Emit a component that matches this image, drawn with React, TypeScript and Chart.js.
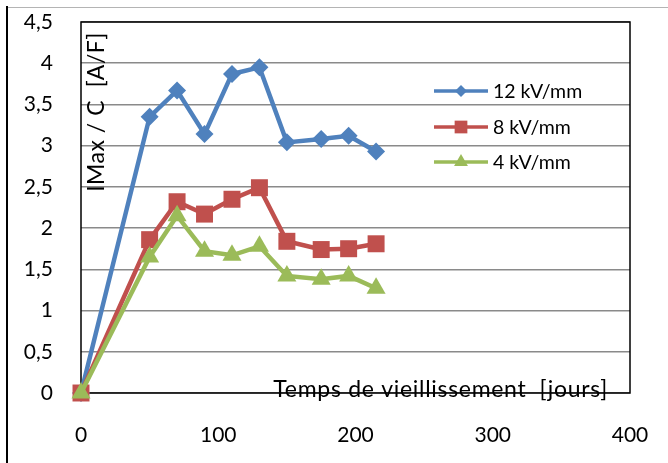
import React, { useEffect, useRef } from "react";
import { Chart, registerables } from "chart.js";

Chart.register(...registerables);

const days = [0, 50, 70, 90, 110, 130, 150, 175, 195, 215];
const kv12 = [0, 3.35, 3.67, 3.14, 3.87, 3.95, 3.04, 3.08, 3.12, 2.93];
const kv8 = [0, 1.86, 2.32, 2.17, 2.35, 2.49, 1.84, 1.74, 1.75, 1.81];
const kv4 = [0, 1.65, 2.15, 1.72, 1.67, 1.78, 1.42, 1.38, 1.42, 1.27];
const seriesNames = ["12 kV/mm", "8 kV/mm", "4 kV/mm"];
const colors = ["#4F81BD", "#C0504D", "#9BBB59"];
const markers = ["rectRot", "rect", "triangle"];
const xTitle = "Temps de vieillissement  [jours]";
const yTitle = "IMax / C  [A/F]";

const FONT = 'Lato, "Open Sans", sans-serif';
const W = 668;
const H = 463;

const decorPlugin = {
  id: "decor",
  beforeDraw(chart: any) {
    const ctx = chart.ctx;
    ctx.save();
    ctx.fillStyle = "#fff";
    ctx.fillRect(0, 0, W, H);
    ctx.strokeStyle = "#b4b4b4";
    ctx.lineWidth = 1;
    ctx.beginPath();
    ctx.moveTo(6, 7.5);
    ctx.lineTo(W, 7.5);
    ctx.stroke();
    ctx.strokeStyle = "#000";
    ctx.lineWidth = 2;
    ctx.beginPath();
    ctx.moveTo(7, 6);
    ctx.lineTo(7, H);
    ctx.stroke();
    ctx.restore();
  },
  beforeDatasetsDraw(chart: any) {
    const ctx = chart.ctx;
    const a = chart.chartArea;
    ctx.save();
    ctx.fillStyle = "#000";
    ctx.font = `23px ${FONT}`;
    (ctx as any).letterSpacing = "0.7px";
    ctx.textAlign = "right";
    ctx.textBaseline = "alphabetic";
    ctx.fillText(xTitle, a.right - 22, a.bottom + 4);
    (ctx as any).letterSpacing = "0.5px";
    ctx.translate(a.left + 23, a.top + 90);
    ctx.rotate(-Math.PI / 2);
    ctx.textAlign = "center";
    ctx.fillText(yTitle, 0, 0);
    ctx.restore();
    ctx.save();
    ctx.strokeStyle = "#000";
    ctx.lineWidth = 1.5;
    ctx.strokeRect(a.left, a.top, a.right - a.left, a.bottom - a.top);
    ctx.restore();
  },
  afterDatasetsDraw(chart: any) {
    const ctx = chart.ctx;
    const ys = [91, 127, 162];
    ctx.save();
    for (let i = 0; i < 3; i++) {
      const y = ys[i];
      ctx.strokeStyle = colors[i];
      ctx.lineWidth = 3.5;
      ctx.beginPath();
      ctx.moveTo(434, y);
      ctx.lineTo(488, y);
      ctx.stroke();
      ctx.fillStyle = colors[i];
      const r = i === 0 ? 6 : i === 1 ? 9 : 8;
      ctx.beginPath();
      if (i === 0) {
        ctx.moveTo(461 - r, y);
        ctx.lineTo(461, y - r);
        ctx.lineTo(461 + r, y);
        ctx.lineTo(461, y + r);
      } else if (i === 1) {
        const s = r * Math.SQRT1_2;
        ctx.rect(461 - s, y - s, 2 * s, 2 * s);
      } else {
        ctx.moveTo(461, y - r);
        ctx.lineTo(461 + r * 0.866, y + r * 0.5);
        ctx.lineTo(461 - r * 0.866, y + r * 0.5);
      }
      ctx.closePath();
      ctx.fill();
      ctx.fillStyle = "#000";
      ctx.font = `19.5px ${FONT}`;
      ctx.textAlign = "left";
      ctx.textBaseline = "middle";
      ctx.fillText(seriesNames[i], 493, y + 1);
    }
    ctx.restore();
  },
};

function zeroPad(scale: any) {
  scale.paddingTop = 0;
  scale.paddingBottom = 0;
  scale.paddingLeft = 0;
  scale.paddingRight = 0;
}

export default function App() {
  const ref = useRef<HTMLCanvasElement>(null);
  useEffect(() => {
    document.body.style.margin = "0";
    const series = [kv12, kv8, kv4];
    const radii = [9, 12, 11];
    const chart = new Chart(ref.current!, {
      type: "line",
      data: {
        datasets: series.map((s, i) => ({
          label: seriesNames[i],
          data: s.map((v, j) => ({ x: days[j], y: v })),
          borderColor: colors[i],
          backgroundColor: colors[i],
          borderWidth: 4.5,
          pointStyle: markers[i] as any,
          pointRadius: radii[i],
          pointBorderWidth: 0,
          pointBackgroundColor: colors[i],
          tension: 0,
          clip: false as any,
          order: 2 - i,
        })),
      },
      options: {
        responsive: false,
        animation: false,
        devicePixelRatio: 1,
        layout: { padding: { top: 22, right: 38, left: 0, bottom: 0 } },
        plugins: { legend: { display: false }, tooltip: { enabled: false } },
        scales: {
          x: {
            type: "linear",
            min: 0,
            max: 400,
            ticks: {
              stepSize: 100,
              padding: 30,
              color: "#000",
              font: { family: FONT, size: 21 },
            },
            grid: { display: false, drawTicks: false },
            border: { display: false },
            afterFit(scale: any) {
              scale.height = 70;
              zeroPad(scale);
            },
          },
          y: {
            type: "linear",
            min: 0,
            max: 4.5,
            ticks: {
              stepSize: 0.5,
              padding: 28,
              color: "#000",
              font: { family: FONT, size: 21 },
              callback: (v: any) => String(v).replace(".", ","),
            },
            grid: { color: "#8a8a8a", lineWidth: 1.5, drawTicks: false },
            border: { display: false },
            afterFit(scale: any) {
              scale.width = 81;
              zeroPad(scale);
            },
          },
        },
      },
      plugins: [decorPlugin],
    });
    return () => chart.destroy();
  }, []);
  return (
    <div style={{ width: W, height: H }}>
      <canvas ref={ref} width={W} height={H} style={{ display: "block" }} />
    </div>
  );
}
